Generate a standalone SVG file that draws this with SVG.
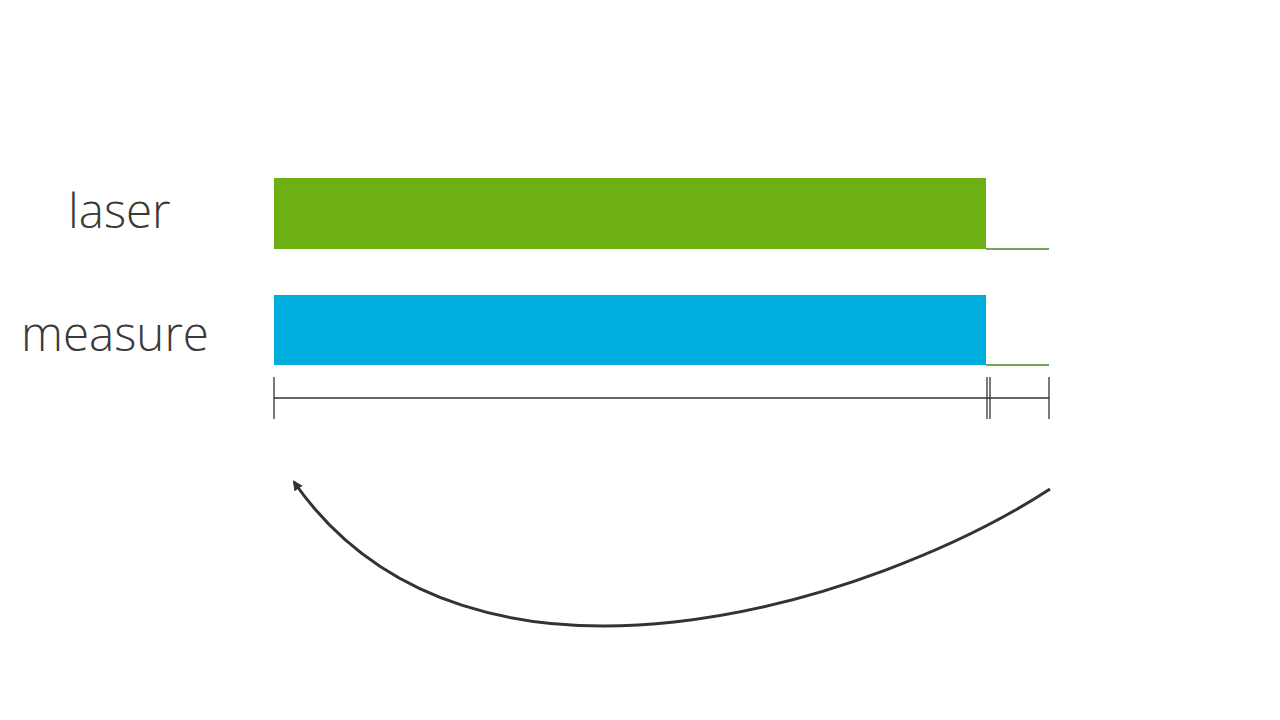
<svg xmlns="http://www.w3.org/2000/svg" width="1280" height="720" viewBox="0 0 1280 720">
<style>
.lbl{font-family:"Open Sans","Liberation Sans",sans-serif;font-weight:300;font-size:47.5px;fill:#3a3a3a}
.tick{stroke:#333;stroke-width:1.3;fill:none}
.tail{stroke:#3f8a28;stroke-width:1.3}
</style>
<defs>
<marker id="ah" markerWidth="10" markerHeight="10" refX="8" refY="5" orient="auto" markerUnits="userSpaceOnUse">
<path d="M0,0 L10,5 L0,10 z" fill="#333"/>
</marker>
</defs>
<rect width="1280" height="720" fill="#fff"/>
<g id="laser">
<text class="lbl" x="68" y="228">laser</text>
<rect x="274" y="178" width="712" height="71" fill="#6db013"/>
<line class="tail" x1="986" y1="249" x2="1049" y2="249"/>
</g>
<g id="measure">
<text class="lbl" x="21" y="351">measure</text>
<rect x="274" y="295" width="712" height="70" fill="#00aedd"/>
<line class="tail" x1="986" y1="365" x2="1049" y2="365"/>
</g>
<g id="scale">
<line class="tick" x1="274" y1="377" x2="274" y2="419"/>
<line class="tick" x1="274" y1="398" x2="1049" y2="398"/>
<line class="tick" x1="987" y1="377" x2="987" y2="419"/>
<line class="tick" x1="990" y1="377" x2="990" y2="419"/>
<line class="tick" x1="1049" y1="377" x2="1049" y2="419"/>
</g>
<g id="connectors">
<path d="M1050,489 C880,600 470,735 294,482" fill="none" stroke="#333" stroke-width="3" marker-end="url(#ah)"/>
</g>
</svg>
